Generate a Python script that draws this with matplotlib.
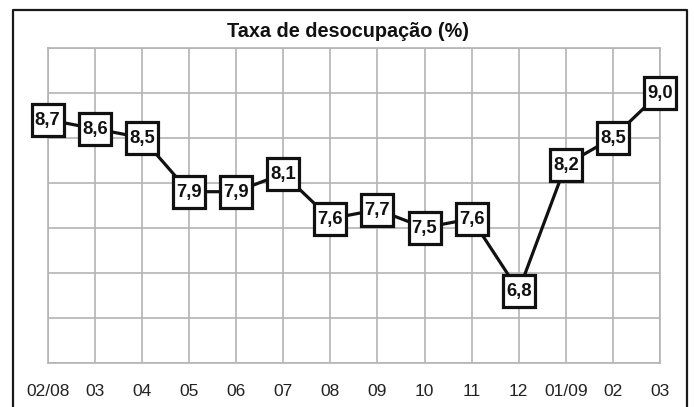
#!/usr/bin/env python3
"""
Taxa de desocupação (%) - line chart with boxed value labels
"""
import matplotlib
matplotlib.use('Agg')
import matplotlib.pyplot as plt
from matplotlib.lines import Line2D

plt.rcParams['font.family'] = ['Liberation Sans', 'DejaVu Sans']

# %% dados
months = ['02/08', '03', '04', '05', '06', '07', '08', '09', '10', '11',
          '12', '01/09', '02', '03']
rate = [8.7, 8.6, 8.5, 7.9, 7.9, 8.1, 7.6, 7.7, 7.5, 7.6, 6.8, 8.2, 8.5, 9.0]
labels = [f'{v:.1f}'.replace('.', ',') for v in rate]

W, H = 694, 407
fig = plt.figure(figsize=(W / 100, H / 100), dpi=100)
ax = fig.add_axes([47.7 / W, 1 - 362.7 / H, (660 - 47.7) / W, (362.7 - 47.7) / H])

x = list(range(len(months)))
ax.plot(x, rate, color='#111111', lw=2.3, zorder=3)
# caixas quadradas brancas
ax.plot(x, rate, ls='none', marker='s', ms=23.2, mfc='white', mec='#111111',
        mew=2.3, zorder=4, clip_on=False)

for xi, yi, lab in zip(x, rate, labels):
    ax.text(xi, yi - 0.012, lab, ha='center', va='center', fontsize=13.3,
            fontweight='bold', color='#111111', zorder=5, clip_on=False)

ax.set_xlim(0, len(months) - 1)
ax.set_ylim(6.0, 9.5)
ax.set_xticks(x)
ax.set_xticklabels(months, fontsize=12.5, color='#222222')
ax.set_yticks([6.0 + 0.5 * i for i in range(8)])
ax.set_yticklabels([])
ax.tick_params(axis='both', length=0)
ax.tick_params(axis='x', pad=15)
ax.grid(True, color='#b4b4b4', lw=1.2, zorder=0)
for s in ax.spines.values():
    s.set_color('#b4b4b4')
    s.set_linewidth(1.2)

# moldura externa (sem linha inferior)
fig.add_artist(Line2D([13 / W, 13 / W, 687 / W, 687 / W],
                      [-0.02, 1 - 9.5 / H, 1 - 9.5 / H, -0.02],
                      transform=fig.transFigure, color='#1a1a1a', lw=1.6))

fig.text(348 / W, 1 - 31.7 / H, 'Taxa de desocupação (%)', ha='center', va='center',
         fontsize=14.3, fontweight='bold', color='#111111')

fig.savefig('out.png', dpi=100)
